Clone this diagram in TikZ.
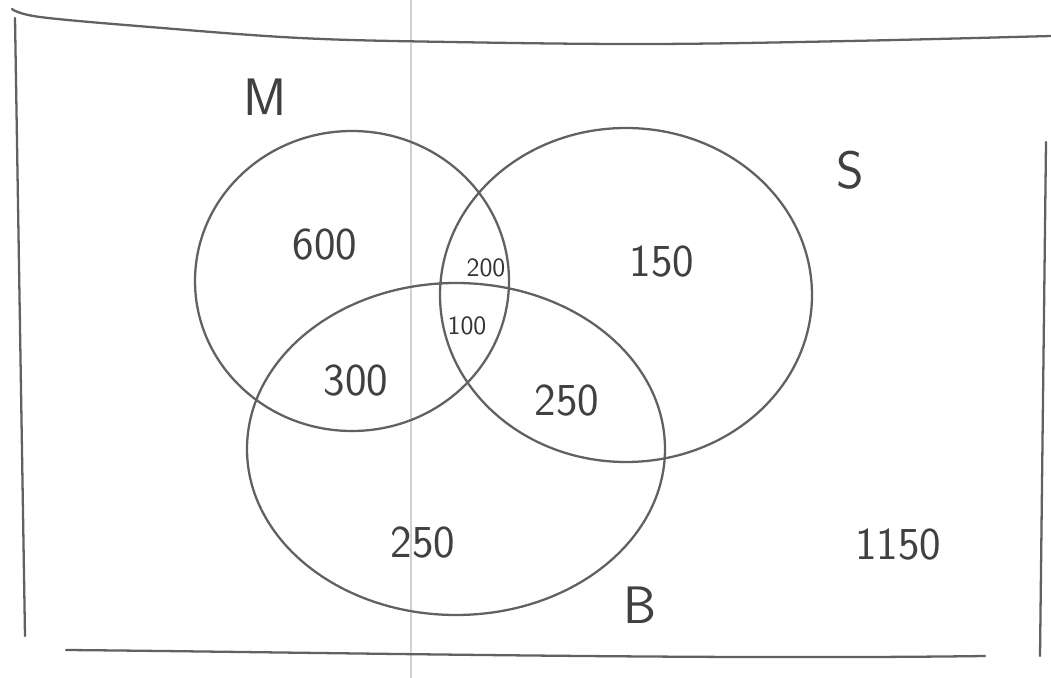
\documentclass[tikz,border=0pt]{standalone}
\usepackage{fontspec}
\setmainfont{Liberation Sans}

\begin{document}
\begin{tikzpicture}[x=0.02cm, y=-0.02cm, pencil/.style={line width=1.3pt, black!62, line cap=round}, setname/.style={font=\fontsize{30}{30}\selectfont\sffamily\color{black!75}}, count/.style={font=\fontsize{26}{26}\selectfont\sffamily\color{black!75}}, small/.style={font=\fontsize{15}{15}\selectfont\sffamily\color{black!80}}]
\useasboundingbox (0,0) rectangle (1051,678);
% scanner fold
\draw[black!18, line width=0.8pt] (411,0)--(411,678);
% frame
\draw[pencil] plot[smooth, tension=0.6] coordinates {(12,9) (40,17) (150,27) (300,38) (450,42) (650,44) (850,41) (1051,36)};
\draw[pencil] (15,18)--(25,636);
\draw[pencil] (66,650) .. controls (300,652) and (700,660) .. (985,656);
\draw[pencil] (1046,142)--(1040,656);
% the three sets
\coordinate (cm) at (352,281); \coordinate (cs) at (626,295); \coordinate (cb) at (456,449);
\draw[pencil] (cm) ellipse [x radius=157, y radius=150];
\draw[pencil] (cs) ellipse [x radius=186, y radius=167];
\draw[pencil] (cb) ellipse [x radius=209, y radius=166];
% labels
\node[setname] (labM) at (265,97) {M};
\node[setname] (labS) at (850,170) {S};
\node[setname] (labB) at (640,605) {B};
\node[count] (onlyM) at (325,245) {600};
\node[count] (onlyS) at (662,262) {150};
\node[small] (ms) at (486,268) {200};
\node[small] (msb) at (467,326) {100};
\node[count] (mb) at (356,381) {300};
\node[count] (sb) at (567,401) {250};
\node[count] (onlyB) at (423,543) {250};
\node[count] (none) at (898,545) {1150};
\end{tikzpicture}
\end{document}
